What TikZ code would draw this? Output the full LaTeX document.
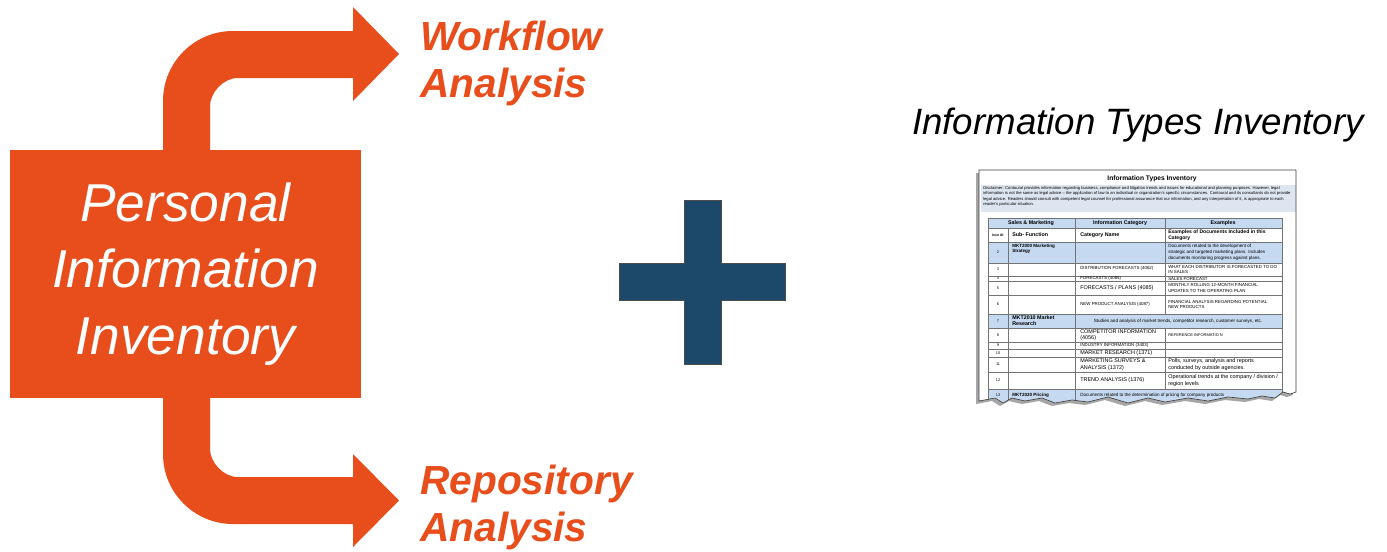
\documentclass[tikz,border=0pt]{standalone}
\usepackage{fontspec}
\setmainfont{Liberation Sans}
\usepackage{tikz}

\definecolor{piiorange}{RGB}{232,78,27}
\definecolor{plusblue}{RGB}{28,72,106}
\definecolor{rowblue}{RGB}{197,217,241}
\definecolor{discblue}{RGB}{221,229,240}

\tikzset{
  armlabel/.style={text=piiorange, font=\fontsize{30.5}{35.25}\selectfont\bfseries\itshape, align=left, anchor=north west, inner sep=0pt},
  gridline/.style={draw=black!55, line width=0.3pt},
  pageedge/.style={draw=black!75, line width=0.5pt},
  cell/.style={font=\fontsize{3.3}{3.9}\selectfont, inner sep=0pt, anchor=west, align=left},
  cellbig/.style={cell, font=\fontsize{4.1}{4.8}\selectfont},
  cellbf/.style={cell, font=\fontsize{4}{4.6}\selectfont\bfseries},
  cellno/.style={font=\fontsize{2.9}{3.4}\selectfont, inner sep=0pt}
}

\begin{document}
\begin{tikzpicture}[x=0.75pt,y=0.75pt,yscale=-1,xscale=1]
\fill[white, use as bounding box] (0,0) rectangle (1387,551);

%Shape: Upper Arrow
\fill[piiorange] (163,200) -- (163,101) .. controls (163,62.3) and (194.3,31) .. (233,31) -- (353,31) -- (353,7) -- (399,54) -- (353,101) -- (353,78) -- (238,78) .. controls (222.5,78) and (210,93.5) .. (210,106) -- (210,200) -- cycle;
%Shape: Lower Arrow
\fill[piiorange] (163,350) -- (163,454) .. controls (163,492.7) and (194.3,524) .. (233,524) -- (353,524) -- (353,547) -- (399,500.5) -- (353,454) -- (353,477) -- (238,477) .. controls (222.5,477) and (210,461.5) .. (210,449) -- (210,350) -- cycle;

%Shape: Box
\node[fill=piiorange, minimum width=263.25pt, minimum height=186pt, inner sep=0pt, text=white, align=center, font=\fontsize{40}{50}\selectfont\itshape] (pii) at (185.5,274) {Personal\\Information\\Inventory};

% Text Node
\draw (420,21) node[armlabel] (wf) {Workflow\\Analysis};
% Text Node
\draw (420,465) node[armlabel] (ra) {Repository\\Analysis};

%Shape: Plus
\filldraw[fill=plusblue, draw=black!70, line width=0.5pt] (684,200) -- (721,200) -- (721,263) -- (785,263) -- (785,300) -- (721,300) -- (721,364) -- (684,364) -- (684,300) -- (619,300) -- (619,263) -- (684,263) -- cycle;

% Text Node
\draw (1138,125) node[font=\fontsize{27.5}{32}\selectfont\itshape] (itt) {Information Types Inventory};

%Shape: Page shadow
\begin{scope}[shift={(-3,3)}]
\fill[black!35] (979,170) -- (1296,170) -- (1296,392) -- (1290,394) -- (1283,392) -- (1275,398) -- (1262,396) -- (1248,399) -- (1228,397) -- (1208,401) -- (1188,398) -- (1165,402) -- (1148,398) -- (1128,403) -- (1108,397) -- (1088,402) -- (1072,400) -- (1055,403) -- (1042,398) -- (1025,401) -- (1012,398) -- (1003,403) -- (995,398) -- (979,401) -- cycle;
\end{scope}
%Shape: Page
\fill[white] (979,170) -- (1296,170) -- (1296,392) -- (1290,394) -- (1283,392) -- (1275,398) -- (1262,396) -- (1248,399) -- (1228,397) -- (1208,401) -- (1188,398) -- (1165,402) -- (1148,398) -- (1128,403) -- (1108,397) -- (1088,402) -- (1072,400) -- (1055,403) -- (1042,398) -- (1025,401) -- (1012,398) -- (1003,403) -- (995,398) -- (979,401) -- cycle;

\begin{scope}
\clip (979,170) -- (1296,170) -- (1296,392) -- (1290,394) -- (1283,392) -- (1275,398) -- (1262,396) -- (1248,399) -- (1228,397) -- (1208,401) -- (1188,398) -- (1165,402) -- (1148,398) -- (1128,403) -- (1108,397) -- (1088,402) -- (1072,400) -- (1055,403) -- (1042,398) -- (1025,401) -- (1012,398) -- (1003,403) -- (995,398) -- (979,401) -- cycle;

% Text Node
\draw (1152,179) node[font=\fontsize{5}{6}\selectfont\bfseries, inner sep=0pt] (ptitle) {Information Types Inventory};

%Shape: Disclaimer
\fill[discblue] (981,185) rectangle (1296,212);
% Text Node
\draw (983,186) node[font=\fontsize{3.1}{4.1}\selectfont, align=left, anchor=north west, inner sep=0pt] (disc) {Disclaimer: Contoural provides information regarding business, compliance and litigation trends and issues for educational and planning purposes. However, legal\\information is not the same as legal advice -- the application of law to an individual or organization's specific circumstances. Contoural and its consultants do not provide\\legal advice. Readers should consult with competent legal counsel for professional assurance that our information, and any interpretation of it, is appropriate to each\\reader's particular situation.};

%Shape: Table rows
\fill[rowblue] (988,218) rectangle (1282,228) (988,242) rectangle (1282,263) (988,314) rectangle (1282,328) (988,389) rectangle (1282,412);
%Straight Lines
\draw[gridline] (988,218) -- (1282,218) (988,228) -- (1282,228) (988,242) -- (1282,242) (988,263) -- (1282,263) (988,276) -- (1282,276) (988,281) -- (1282,281) (988,295) -- (1282,295) (988,314) -- (1282,314) (988,328) -- (1282,328) (988,342) -- (1282,342) (988,349) -- (1282,349) (988,357) -- (1282,357) (988,372) -- (1282,372) (988,389) -- (1282,389);
\draw[gridline] (988,218) -- (988,412) (1282,218) -- (1282,412) (1075,218) -- (1075,412) (1008,228) -- (1008,412) (1165,218) -- (1165,314) (1165,328) -- (1165,389);

% Text Node
\draw (1031,223) node[cellbf, anchor=center] (hsm) {Sales \& Marketing};
\draw (1120,223) node[cellbf, anchor=center] (hic) {Information Category};
\draw (1223,223) node[cellbf, anchor=center] (hex) {Examples};
\draw (998,235) node[cellno, font=\fontsize{2.5}{3}\selectfont\bfseries] (hid) {Item ID};
\draw (1012,235) node[cellbf] (hsf) {Sub- Function};
\draw (1080,235) node[cellbf] (hcn) {Category Name};
\draw (1168,235) node[cellbf, font=\fontsize{3.8}{4.3}\selectfont\bfseries] (hed) {Examples of Documents Included in this\\Category};

% Text Node
\draw (998,252.5) node[cellno] (n2) {2};
\draw (1012,249) node[cellbf, font=\fontsize{3.4}{4.2}\selectfont\bfseries] (s2) {MKT2000 Marketing\\Strategy};
\draw (1168,252.5) node[cell, font=\fontsize{3.4}{4.3}\selectfont] (e2) {Documents related to the development of\\strategic and targeted marketing plans. Includes\\documents monitoring progress against plans.};

\draw (998,269.5) node[cellno] (n3) {3};
\draw (1080,268) node[cell] (c3) {DISTRIBUTION FORECASTS (4062)};
\draw (1168,269.5) node[cell] (e3) {WHAT EACH DISTRIBUTOR IS FORECASTED TO DO\\IN SALES};

\draw (998,278.5) node[cellno] (n4) {4};
\draw (1080,278.5) node[cell] (c4) {FORECASTS (4085)};
\draw (1168,278.5) node[cell] (e4) {SALES FORECAST};

\draw (998,288) node[cellno] (n5) {5};
\draw (1080,288) node[cellbig] (c5) {FORECASTS / PLANS (4085)};
\draw (1168,288) node[cell] (e5) {MONTHLY ROLLING 12-MONTH FINANCIAL\\UPDATES TO THE OPERATING PLAN};

\draw (998,304.5) node[cellno] (n6) {6};
\draw (1080,304.5) node[cell] (c6) {NEW PRODUCT ANALYSIS (4087)};
\draw (1168,304.5) node[cell] (e6) {FINANCIAL ANALYSIS REGARDING POTENTIAL\\NEW PRODUCTS};

\draw (998,321) node[cellno] (n7) {7};
\draw (1012,321) node[cellbf] (s7) {MKT2010 Market\\Research};
\draw (1178,321) node[cell, anchor=center, font=\fontsize{3.45}{4}\selectfont] (e7) {Studies and analysis of market trends, competitor research, customer surveys, etc.};

\draw (998,335) node[cellno] (n8) {8};
\draw (1080,335) node[cellbig] (c8) {COMPETITOR INFORMATION\\(4056)};
\draw (1168,335) node[cell, font=\fontsize{3}{3.6}\selectfont] (e8) {REFERENCE INFORMATIO N};

\draw (998,345.5) node[cellno] (n9) {9};
\draw (1080,345.5) node[cell] (c9) {INDUSTRY INFORMATION (3403)};

\draw (998,353) node[cellno] (n10) {10};
\draw (1080,353) node[cellbig] (c10) {MARKET RESEARCH (1371)};

\draw (998,364.5) node[cellno] (n11) {11};
\draw (1080,364.5) node[cellbig] (c11) {MARKETING SURVEYS \&\\ANALYSIS (1372)};
\draw (1168,364.5) node[cellbig] (e11) {Polls, surveys, analysis and reports\\conducted by outside agencies.};

\draw (998,380.5) node[cellno] (n12) {12};
\draw (1080,380.5) node[cellbig] (c12) {TREND ANALYSIS (1376)};
\draw (1168,380.5) node[cellbig] (e12) {Operational trends at the company / division /\\region levels};

\draw (998,395) node[cellno] (n13) {13};
\draw (1012,395) node[cellbf, font=\fontsize{3.4}{4}\selectfont\bfseries] (s13) {MKT2020 Pricing};
\draw (1080,395) node[cell, font=\fontsize{3.4}{4}\selectfont] (e13) {Documents related to the determination of pricing for company products};
\end{scope}

%Shape: Page edge
\draw[pageedge] (979,170) -- (1296,170) -- (1296,392) -- (1290,394) -- (1283,392) -- (1275,398) -- (1262,396) -- (1248,399) -- (1228,397) -- (1208,401) -- (1188,398) -- (1165,402) -- (1148,398) -- (1128,403) -- (1108,397) -- (1088,402) -- (1072,400) -- (1055,403) -- (1042,398) -- (1025,401) -- (1012,398) -- (1003,403) -- (995,398) -- (979,401) -- cycle;

\end{tikzpicture}
\end{document}
